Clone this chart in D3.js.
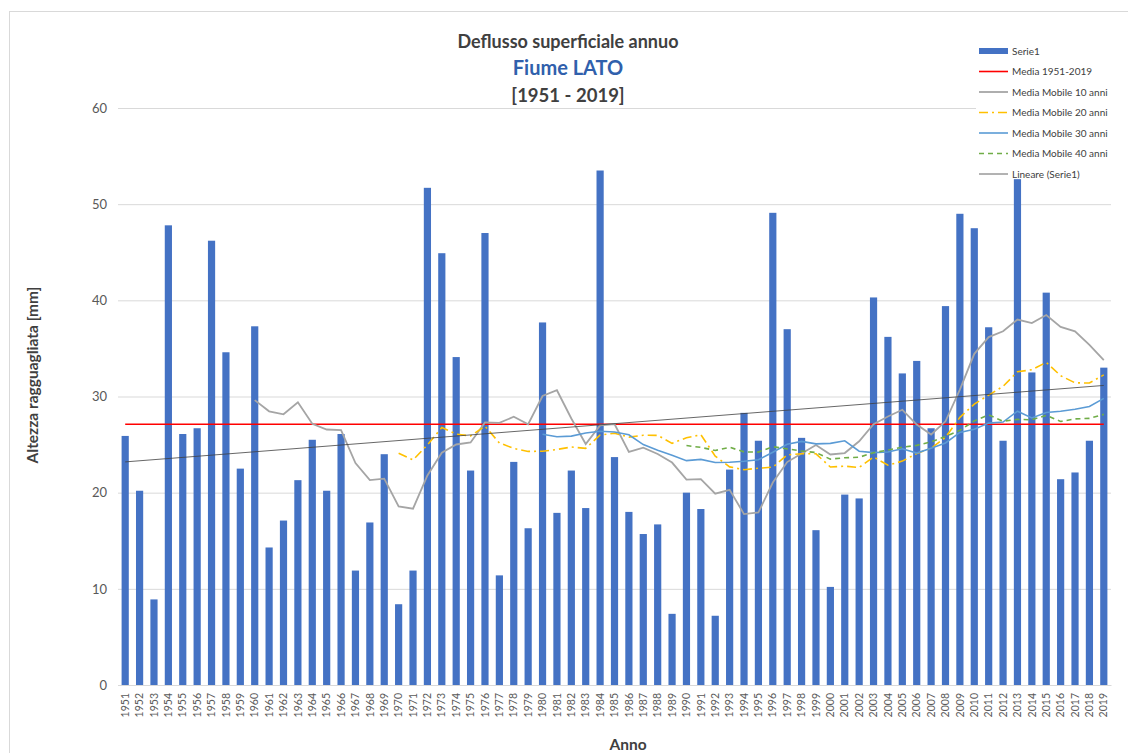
<!DOCTYPE html>
<html>
<head>
<meta charset="utf-8">
<script src="https://cdn.jsdelivr.net/npm/d3@7"></script>
<style>
  html, body { margin: 0; padding: 0; background: #fff; }
  svg { display: block; font-family: Lato, "Open Sans", sans-serif; }
</style>
</head>
<body>
<svg id="chart" width="1128" height="753"></svg>
<script>
// ---------- DATA ----------
const years = ["1951","1952","1953","1954","1955","1956","1957","1958","1959","1960",
  "1961","1962","1963","1964","1965","1966","1967","1968","1969","1970",
  "1971","1972","1973","1974","1975","1976","1977","1978","1979","1980",
  "1981","1982","1983","1984","1985","1986","1987","1988","1989","1990",
  "1991","1992","1993","1994","1995","1996","1997","1998","1999","2000",
  "2001","2002","2003","2004","2005","2006","2007","2008","2009","2010",
  "2011","2012","2013","2014","2015","2016","2017","2018","2019"];

const serie1 = [25.9,20.2,8.9,47.8,26.1,26.7,46.2,34.6,22.5,37.3,
  14.3,17.1,21.3,25.5,20.2,26.1,11.9,16.9,24.0,8.4,
  11.9,51.7,44.9,34.1,22.3,47.0,11.4,23.2,16.3,37.7,
  17.9,22.3,18.4,53.5,23.7,18.0,15.7,16.7,7.4,20.0,
  18.3,7.2,22.4,28.3,25.4,49.1,37.0,25.7,16.1,10.2,
  19.8,19.4,40.3,36.2,32.4,33.7,26.7,39.4,49.0,47.5,
  37.2,25.4,52.6,32.5,40.8,21.4,22.1,25.4,33.0];

const mediaValue = 27.11;               // Media 1951-2019
const trendStart = 23.2;                // Lineare (Serie1) at 1951
const trendEnd = 31.15;                 // Lineare (Serie1) at 2019

// Media mobile 10 anni (1960 -> 2019)
const ma10Start = "1960";
const ma10 = [29.62,28.46,28.15,29.39,27.16,26.57,26.51,23.08,21.31,21.46,
  18.57,18.33,21.79,24.15,25.01,25.22,27.31,27.26,27.89,27.12,
  30.05,30.65,27.71,25.06,27.00,27.14,24.24,24.67,24.02,23.13,
  21.36,21.40,19.89,20.29,17.77,17.94,21.05,23.18,24.08,24.95,
  23.97,24.12,25.34,27.13,27.92,28.62,27.08,26.05,27.42,30.71,
  34.44,36.18,36.78,38.00,37.63,38.47,37.24,36.78,35.38,33.78];

// Media mobile 20 anni (1970 -> 2019)
const ma20Start = "1970";
const ma20 = [24.10,23.40,24.97,26.77,26.09,25.90,26.91,25.17,24.60,24.29,
  24.31,24.49,24.75,24.61,26.00,26.18,25.78,25.97,25.96,25.13,
  25.71,26.03,23.80,22.68,22.39,22.54,22.65,23.93,24.05,24.04,
  22.67,22.76,22.62,23.71,22.85,23.28,24.07,24.62,25.75,27.83,
  29.21,30.15,31.06,32.57,32.78,33.55,32.16,31.42,31.40,32.25];

// Media mobile 30 anni (1980 -> 2019)
const ma30Start = "1980";
const ma30 = [26.08,25.81,25.88,26.20,26.39,26.31,26.02,25.00,24.41,23.90,
  23.33,23.46,23.13,23.17,23.26,23.43,24.20,25.04,25.33,25.07,
  25.13,25.39,24.31,24.16,24.23,24.57,24.12,24.63,25.17,26.26,
  26.59,27.23,27.34,28.47,27.77,28.34,28.46,28.67,28.96,29.81];

// Media mobile 40 anni (1990 -> 2019)
const ma40Start = "1990";
const ma40 = [24.90,24.71,24.39,24.72,24.24,24.22,24.78,24.55,24.33,24.17,
  23.49,23.63,23.68,24.16,24.43,24.73,24.92,25.29,25.85,26.48,
  27.46,28.09,27.43,27.62,27.58,28.04,27.40,27.67,27.73,28.14];

const yTicks = [0,10,20,30,40,50,60];

const titleLines = ["Deflusso superficiale annuo", "Fiume LATO", "[1951 - 2019]"];
const yLabel = "Altezza ragguagliata [mm]";
const xLabel = "Anno";
const legendLabels = ["Serie1","Media 1951-2019","Media Mobile 10 anni","Media Mobile 20 anni",
  "Media Mobile 30 anni","Media Mobile 40 anni","Lineare (Serie1)"];

// ---------- CHART ----------
const svg = d3.select("#chart");
const plot = { left: 118, right: 1111, top: 108, bottom: 685 };

// outer chart border
svg.append("rect").attr("x", 9.5).attr("y", 11.5).attr("width", 1140).attr("height", 760)
  .attr("fill", "#fff").attr("stroke", "#d9d9d9").attr("stroke-width", 1);

const x = d3.scaleBand().domain(years).range([plot.left, plot.right])
  .paddingInner(0.5).paddingOuter(0.25);
const y = d3.scaleLinear().domain([0, 60]).range([plot.bottom, plot.top]);
const cx = d => x(d) + x.bandwidth() / 2;

// gridlines + y axis labels
const yAxis = d3.axisLeft(y).tickValues(yTicks).tickSize(-(plot.right - plot.left)).tickPadding(11);
const gy = svg.append("g").attr("transform", `translate(${plot.left},0)`).call(yAxis);
gy.select(".domain").remove();
gy.selectAll(".tick line").attr("stroke", "#d9d9d9").attr("stroke-width", 1);
gy.selectAll(".tick text").attr("fill", "#595959").attr("font-size", 13)
  .attr("font-family", "Lato, sans-serif");

// x axis line
const xAxis = d3.axisBottom(x).tickSize(0).tickPadding(8);
const gx = svg.append("g").attr("transform", `translate(0,${plot.bottom})`).call(xAxis);
gx.select(".domain").attr("stroke", "#d9d9d9");
gx.selectAll(".tick text")
  .attr("transform", "rotate(-90)")
  .attr("text-anchor", "end")
  .attr("dx", "-8")
  .attr("dy", "0.35em")
  .attr("y", 0)
  .attr("fill", "#595959").attr("font-size", 10.5)
  .attr("font-family", "Lato, sans-serif");

// bars
svg.append("g").selectAll("rect").data(serie1).join("rect")
  .attr("x", (d, i) => x(years[i]))
  .attr("width", x.bandwidth())
  .attr("y", d => y(d))
  .attr("height", d => y(0) - y(d))
  .attr("fill", "#4472C4");

// helper for MA lines
function maLine(values, startYear) {
  const off = years.indexOf(startYear);
  return values.map((v, i) => [cx(years[off + i]), y(v)]);
}
const line = d3.line();

// Media line
svg.append("line")
  .attr("x1", cx(years[0])).attr("x2", cx(years[years.length - 1]))
  .attr("y1", y(mediaValue)).attr("y2", y(mediaValue))
  .attr("stroke", "#ff0000").attr("stroke-width", 1.6);

// MA10
svg.append("path").attr("d", line(maLine(ma10, ma10Start)))
  .attr("fill", "none").attr("stroke", "#a5a5a5").attr("stroke-width", 1.8);
// MA20
svg.append("path").attr("d", line(maLine(ma20, ma20Start)))
  .attr("fill", "none").attr("stroke", "#ffc000").attr("stroke-width", 1.6)
  .attr("stroke-dasharray", "9,4,2,4");
// MA30
svg.append("path").attr("d", line(maLine(ma30, ma30Start)))
  .attr("fill", "none").attr("stroke", "#5b9bd5").attr("stroke-width", 1.6);
// MA40
svg.append("path").attr("d", line(maLine(ma40, ma40Start)))
  .attr("fill", "none").attr("stroke", "#70ad47").attr("stroke-width", 1.6)
  .attr("stroke-dasharray", "5,4");
// Linear trend
svg.append("line")
  .attr("x1", cx(years[0])).attr("x2", cx(years[years.length - 1]))
  .attr("y1", y(trendStart)).attr("y2", y(trendEnd))
  .attr("stroke", "#404040").attr("stroke-width", 0.8);

// titles
const tx = 568;
svg.append("text").attr("x", tx).attr("y", 48).attr("text-anchor", "middle")
  .attr("font-size", 18).attr("font-weight", "bold").attr("fill", "#404040").text(titleLines[0]);
svg.append("text").attr("x", tx).attr("y", 75).attr("text-anchor", "middle")
  .attr("font-size", 20).attr("font-weight", "bold").attr("fill", "#3060ac").text(titleLines[1]);
svg.append("text").attr("x", tx).attr("y", 102).attr("text-anchor", "middle")
  .attr("font-size", 18.5).attr("font-weight", "bold").attr("fill", "#404040").text(titleLines[2]);

// axis titles
svg.append("text").attr("transform", "translate(38,375) rotate(-90)").attr("text-anchor", "middle")
  .attr("font-size", 15.5).attr("font-weight", "bold").attr("fill", "#404040").text(yLabel);
svg.append("text").attr("x", 628).attr("y", 750).attr("text-anchor", "middle")
  .attr("font-size", 15.5).attr("font-weight", "bold").attr("fill", "#404040").text(xLabel);

// legend
const lg = svg.append("g");
lg.append("rect").attr("x", 976).attr("y", 40).attr("width", 140).attr("height", 138).attr("fill", "#fff");
const legendStyles = [
  { type: "bar", color: "#4472C4" },
  { type: "line", color: "#ff0000", w: 1.6 },
  { type: "line", color: "#a5a5a5", w: 1.8 },
  { type: "line", color: "#ffc000", w: 1.6, dash: "9,4,2,4" },
  { type: "line", color: "#5b9bd5", w: 1.6 },
  { type: "line", color: "#70ad47", w: 1.6, dash: "5,4" },
  { type: "line", color: "#404040", w: 0.8 }
];
legendLabels.forEach((lab, i) => {
  const ly = 51 + i * 20.5;
  const s = legendStyles[i];
  if (s.type === "bar") {
    lg.append("rect").attr("x", 979).attr("y", ly - 3).attr("width", 29).attr("height", 6).attr("fill", s.color);
  } else {
    lg.append("line").attr("x1", 979).attr("x2", 1008).attr("y1", ly).attr("y2", ly)
      .attr("stroke", s.color).attr("stroke-width", s.w).attr("stroke-dasharray", s.dash || null);
  }
  lg.append("text").attr("x", 1012).attr("y", ly).attr("dy", "0.35em")
    .attr("font-size", 10).attr("fill", "#404040").text(lab);
});
</script>
</body>
</html>
